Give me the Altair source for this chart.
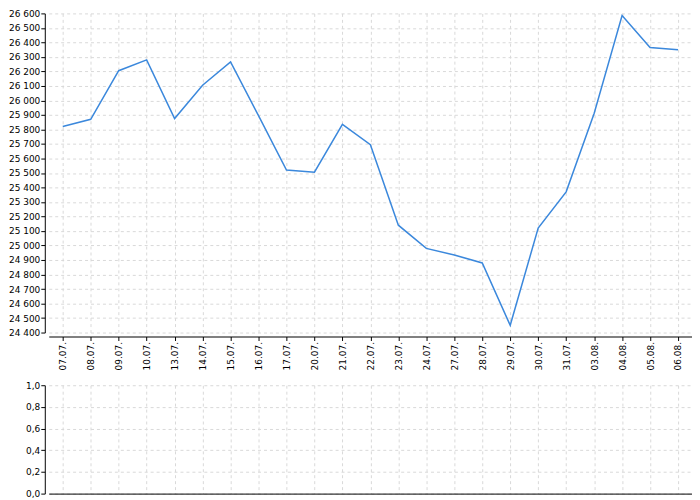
import altair as alt
import pandas as pd

dates = ["07.07.", "08.07.", "09.07.", "10.07.", "13.07.", "14.07.", "15.07.", "16.07.",
         "17.07.", "20.07.", "21.07.", "22.07.", "23.07.", "24.07.", "27.07.", "28.07.",
         "29.07.", "30.07.", "31.07.", "03.08.", "04.08.", "05.08.", "06.08."]
values = [25820, 25870, 26205, 26280, 25875, 26105, 26265, 25895,
          25520, 25505, 25835, 25695, 25140, 24980, 24935, 24880,
          24450, 25120, 25370, 25910, 26585, 26365, 26350]
y_ticks = list(range(24400, 26601, 100))
y2_ticks = [0.0, 0.2, 0.4, 0.6, 0.8, 1.0]

df = pd.DataFrame({"d": dates, "v": values})

FONT = "DejaVu Sans"
FS = 9
GRID = dict(grid=True, gridColor="#d9d9d9", gridDash=[3, 3], gridWidth=1)

top = alt.Chart(df).mark_line(color="#3b88dc", strokeWidth=1.5).encode(
    x=alt.X("d:O", sort=None, scale=alt.Scale(padding=0.5),
            axis=alt.Axis(title=None, labelAngle=270, offset=4, tickSize=4,
                          labelPadding=1, labelFont=FONT, labelFontSize=FS,
                          labelColor="black", domainColor="black", tickColor="black",
                          **GRID)),
    y=alt.Y("v:Q", scale=alt.Scale(domain=[24400, 26600], nice=False, zero=False),
            axis=alt.Axis(title=None, values=y_ticks, offset=4, tickSize=4,
                          labelPadding=1, labelFont=FONT, labelFontSize=FS,
                          labelColor="black", domainColor="black", tickColor="black",
                          labelExpr="replace(format(datum.value, ','), ',', ' ')",
                          **GRID)),
).properties(width=647, height=321)

bottom = alt.Chart(df).transform_calculate(z="0").mark_point(opacity=0).encode(
    x=alt.X("d:O", sort=None, scale=alt.Scale(padding=0.5),
            axis=alt.Axis(title=None, labels=False, ticks=False, offset=0,
                          domainColor="black", **GRID)),
    y=alt.Y("z:Q", scale=alt.Scale(domain=[0, 1], nice=False),
            axis=alt.Axis(title=None, values=y2_ticks, offset=4, tickSize=4,
                          labelPadding=1, labelFont=FONT, labelFontSize=FS,
                          labelColor="black", domainColor="black", tickColor="black",
                          labelExpr="replace(format(datum.value, '.1f'), '.', ',')",
                          **GRID)),
).properties(width=647, height=109)

chart = alt.vconcat(top, bottom, spacing=11).properties(
    padding={"left": 0, "top": 0, "right": 0, "bottom": 0}
).configure_view(stroke=None).configure_axis(domainWidth=1)

chart.save("out.html", embed_options={"renderer": "svg", "actions": False})
